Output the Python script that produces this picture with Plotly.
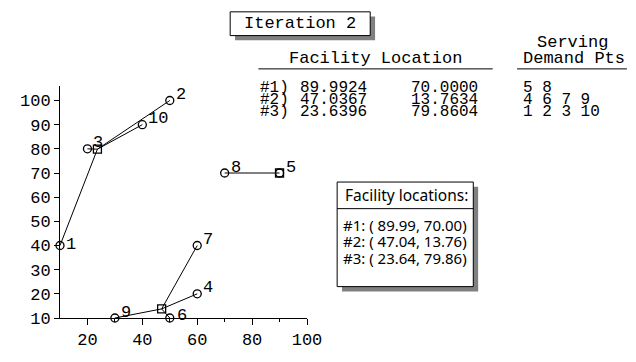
import plotly.graph_objects as go

# ---------------- data ----------------
demand_x = [10, 50, 20, 60, 90, 50, 60, 70, 30, 40]
demand_y = [40, 100, 80, 20, 70, 10, 40, 70, 10, 90]
demand_labels = ["1", "2", "3", "4", "5", "6", "7", "8", "9", "10"]

facility_x = [89.9924, 47.0367, 23.6396]
facility_y = [70.0000, 13.7634, 79.8604]
facility_ids = ["#1)", "#2)", "#3)"]
serving = [[5, 8], [4, 6, 7, 9], [1, 2, 3, 10]]

x_ticks = [20, 40, 60, 80, 100]
x_minor = [30, 50, 70, 90]
y_ticks = [10, 20, 30, 40, 50, 60, 70, 80, 90, 100]

iteration_title = "Iteration 2"
box_title = "Facility locations:"

# ---------------- layout constants ----------------
# The page body has an 8px default margin, so the figure is drawn 8px smaller
# and all target positions below are given in window pixels.
OFF = 8
W, H = 636 - OFF, 362 - OFF
L, R, T, B = 53, 307, 86, 330   # plot area in window pixels
MONO = "Liberation Mono, Courier New, monospace"
SANS = "Noto Sans, DejaVu Sans, sans-serif"


def px(xp):
    return (xp - L) / (R - L)


def py(yp):
    return (B - yp) / (B - T)


fig = go.Figure()

# assignment lines
lx, ly = [], []
for fx, fy, pts in zip(facility_x, facility_y, serving):
    for p in pts:
        lx += [fx, demand_x[p - 1], None]
        ly += [fy, demand_y[p - 1], None]
fig.add_trace(go.Scatter(x=lx, y=ly, mode="lines",
                         line=dict(color="black", width=1),
                         hoverinfo="skip", cliponaxis=False))

# demand points
fig.add_trace(go.Scatter(x=demand_x, y=demand_y, mode="markers",
                         marker=dict(symbol="circle-open", size=8,
                                     color="black", line=dict(width=1.3)),
                         cliponaxis=False))
# facilities
fig.add_trace(go.Scatter(x=facility_x, y=facility_y, mode="markers",
                         marker=dict(symbol="square-open", size=8,
                                     color="black", line=dict(width=1.3)),
                         cliponaxis=False))

annotations = []
shift = {"1": (4, 1), "6": (5, 3)}
for x, y, lab in zip(demand_x, demand_y, demand_labels):
    xs, ys = shift.get(lab, (4, 6))
    annotations.append(dict(x=x, y=y, xref="x", yref="y", text=lab,
                            showarrow=False, xanchor="left", yanchor="middle",
                            xshift=xs, yshift=ys,
                            font=dict(family=MONO, size=17, color="black")))

shapes = []
SHADOW = "#808080"
# Iteration box with shadow
bx0, by0, bx1, by1 = 228, 8, 372, 33
shapes.append(dict(type="rect", xref="paper", yref="paper",
                   x0=px(bx0 + 5), x1=px(bx1 + 5), y0=py(by0 + 5), y1=py(by1 + 5),
                   fillcolor=SHADOW, line=dict(width=0), layer="below"))
shapes.append(dict(type="rect", xref="paper", yref="paper",
                   x0=px(bx0), x1=px(bx1), y0=py(by0), y1=py(by1),
                   fillcolor="white", line=dict(color="black", width=1), layer="below"))
annotations.append(dict(x=px((bx0 + bx1) / 2), y=py((by0 + by1) / 2 - 0.5), xref="paper", yref="paper",
                        text=iteration_title, showarrow=False,
                        xanchor="center", yanchor="middle",
                        font=dict(family=MONO, size=17, color="black")))

# table headers
annotations.append(dict(x=px(377), y=py(57), xref="paper", yref="paper",
                        text="Facility Location", showarrow=False,
                        xanchor="center", yanchor="middle",
                        font=dict(family=MONO, size=17, color="black")))
annotations.append(dict(x=px(580), y=py(40), xref="paper", yref="paper",
                        text="Serving", showarrow=False,
                        xanchor="center", yanchor="middle",
                        font=dict(family=MONO, size=17, color="black")))
annotations.append(dict(x=px(582), y=py(57), xref="paper", yref="paper",
                        text="Demand Pts", showarrow=False,
                        xanchor="center", yanchor="middle",
                        font=dict(family=MONO, size=17, color="black")))
for x0, x1 in [(257, 498), (523, 636)]:
    shapes.append(dict(type="line", xref="paper", yref="paper",
                       x0=px(x0), x1=px(x1), y0=py(68), y1=py(68),
                       line=dict(color="black", width=1)))

# table rows
row_y = [88, 100.5, 113]
for i, (fid, fx, fy, pts) in enumerate(zip(facility_ids, facility_x, facility_y, serving)):
    cols = [(257, fid), (298, f"{fx:.4f}"), (412, f"{fy:.4f}"),
            (527, " ".join(str(p) for p in pts))]
    for cx, txt in cols:
        annotations.append(dict(x=px(cx), y=py(row_y[i]), xref="paper", yref="paper",
                                text=txt, showarrow=False,
                                xanchor="left", yanchor="middle",
                                font=dict(family=MONO, size=16, color="black")))

# facility locations box
fx0, fy0, fx1, fy1 = 338, 187, 478, 297
shapes.append(dict(type="rect", xref="paper", yref="paper",
                   x0=px(fx0 + 5), x1=px(fx1 + 5), y0=py(fy0 + 5), y1=py(fy1 + 5),
                   fillcolor=SHADOW, line=dict(width=0), layer="below"))
shapes.append(dict(type="rect", xref="paper", yref="paper",
                   x0=px(fx0), x1=px(fx1), y0=py(fy0), y1=py(fy1),
                   fillcolor="white", line=dict(color="black", width=1), layer="below"))
shapes.append(dict(type="line", xref="paper", yref="paper",
                   x0=px(fx0), x1=px(fx1), y0=py(215), y1=py(215),
                   line=dict(color="black", width=1)))
annotations.append(dict(x=px(344), y=py(201), xref="paper", yref="paper",
                        text=box_title, showarrow=False,
                        xanchor="left", yanchor="middle",
                        font=dict(family=SANS, size=15.5, color="black")))
box_rows_y = [232, 249.5, 267]
for i, (fx, fy) in enumerate(zip(facility_x, facility_y)):
    annotations.append(dict(x=px(342), y=py(box_rows_y[i]), xref="paper", yref="paper",
                            text=f"#{i + 1}: ( {fx:.2f}, {fy:.2f})", showarrow=False,
                            xanchor="left", yanchor="middle",
                            font=dict(family=SANS, size=15, color="black")))

fig.update_layout(
    width=W, height=H,
    margin=dict(l=L - OFF, r=W - (R - OFF), t=T - OFF, b=H - (B - OFF), pad=0),
    paper_bgcolor="white", plot_bgcolor="white",
    showlegend=False,
    annotations=annotations, shapes=shapes,
    xaxis=dict(range=[10, 100], showgrid=False, zeroline=False,
               showline=True, linecolor="black", linewidth=1,
               ticks="outside", ticklen=6, tickcolor="black", tickwidth=1,
               tickvals=x_ticks, ticktext=[str(v) for v in x_ticks],
               minor=dict(tickvals=x_minor, ticks="outside", ticklen=3,
                          tickcolor="black", tickwidth=1, showgrid=False),
               tickfont=dict(family=MONO, size=17, color="black")),
    yaxis=dict(range=[10, 106], showgrid=False, zeroline=False,
               showline=True, linecolor="black", linewidth=1,
               ticks="outside", ticklen=5, tickcolor="black", tickwidth=1,
               tickvals=y_ticks, ticktext=[str(v) for v in y_ticks],
               tickfont=dict(family=MONO, size=17, color="black")),
)

fig.write_html("out.html")
